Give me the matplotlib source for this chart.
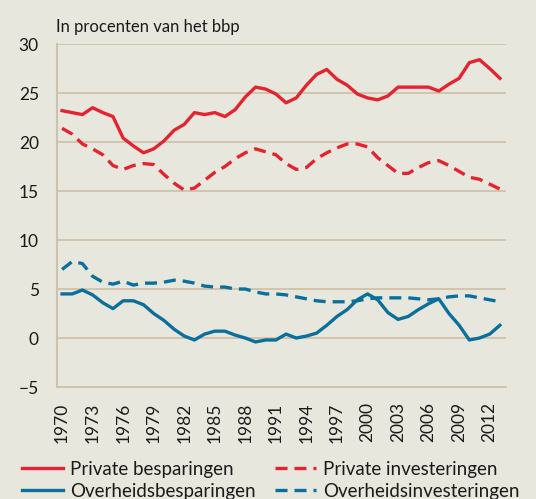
import matplotlib
matplotlib.use("Agg")
import matplotlib.pyplot as plt
from matplotlib.lines import Line2D

years = list(range(1970, 2014))

private_besparingen = [
    23.2, 23.0, 22.8, 23.5, 23.0, 22.6, 20.4, 19.6, 18.9, 19.3,
    20.1, 21.2, 21.8, 23.0, 22.8, 23.0, 22.6, 23.3, 24.6, 25.6,
    25.4, 24.9, 24.0, 24.5, 25.8, 26.9, 27.4, 26.4, 25.8, 24.9,
    24.5, 24.3, 24.7, 25.6, 25.6, 25.6, 25.6, 25.2, 25.9, 26.5,
    28.1, 28.4, 27.5, 26.5,
]
private_investeringen = [
    21.4, 20.8, 19.8, 19.3, 18.7, 17.6, 17.2, 17.6, 17.8, 17.7,
    16.7, 15.8, 15.1, 15.3, 16.1, 16.9, 17.5, 18.3, 18.9, 19.3,
    19.0, 18.7, 17.8, 17.2, 17.4, 18.3, 18.9, 19.4, 19.8, 19.8,
    19.5, 18.4, 17.6, 16.8, 16.8, 17.4, 17.9, 18.1, 17.6, 17.0,
    16.4, 16.2, 15.7, 15.2,
]
overheids_besparingen = [
    4.5, 4.5, 4.9, 4.4, 3.6, 3.0, 3.8, 3.8, 3.4, 2.5,
    1.8, 0.9, 0.2, -0.2, 0.4, 0.7, 0.7, 0.3, 0.0, -0.4,
    -0.2, -0.2, 0.4, 0.0, 0.2, 0.5, 1.3, 2.2, 2.9, 3.9,
    4.5, 3.9, 2.6, 1.9, 2.2, 2.9, 3.5, 4.0, 2.5, 1.3,
    -0.2, 0.0, 0.4, 1.3,
]
overheids_investeringen = [
    7.0, 7.8, 7.6, 6.3, 5.7, 5.5, 5.8, 5.4, 5.6, 5.6,
    5.7, 5.9, 5.8, 5.6, 5.3, 5.2, 5.2, 5.0, 5.0, 4.7,
    4.5, 4.5, 4.4, 4.2, 4.0, 3.8, 3.7, 3.7, 3.7, 3.8,
    4.0, 4.1, 4.1, 4.1, 4.1, 4.0, 3.9, 4.0, 4.2, 4.3,
    4.3, 4.1, 3.9, 3.7,
]

tick_years = list(range(1970, 2013, 3))
y_ticks = [-5, 0, 5, 10, 15, 20, 25, 30]
y_labels = ["\u22125", "0", "5", "10", "15", "20", "25", "30"]

RED = "#e3232f"
BLUE = "#0b6f9c"
BG = "#e8e7de"
GRID = "#cfc2aa"
TXT = "#1a1a1a"
LW = 2.4
DASH = (0, (3.6, 2.1))

plt.rcParams["font.family"] = ["Lato", "DejaVu Sans"]

fig = plt.figure(figsize=(5.36, 4.99), dpi=100)
fig.patch.set_facecolor(BG)
ax = fig.add_axes([0.1063, 0.2244, 0.8377, 0.6874])
ax.set_facecolor(BG)

ax.plot(years, private_besparingen, color=RED, lw=LW)
ax.plot(years, private_investeringen, color=RED, lw=LW, ls=DASH)
ax.plot(years, overheids_besparingen, color=BLUE, lw=LW)
ax.plot(years, overheids_investeringen, color=BLUE, lw=LW, ls=DASH)

ax.set_xlim(1969.5, 2013.6)
ax.set_ylim(-5, 30)
ax.set_yticks(y_ticks)
ax.set_yticklabels(y_labels, fontsize=12.5, color=TXT)
ax.set_xticks(tick_years)
ax.set_xticklabels([str(y) for y in tick_years], rotation=90, fontsize=12.5, color=TXT)
ax.tick_params(length=0)
ax.tick_params(axis="y", pad=13)
ax.tick_params(axis="x", pad=11)

ax.grid(axis="y", color=GRID, lw=1.3)
ax.set_axisbelow(True)
for side in ["top", "right"]:
    ax.spines[side].set_visible(False)
ax.spines["left"].set_color(GRID)
ax.spines["left"].set_linewidth(1.5)
ax.spines["bottom"].set_color(GRID)
ax.spines["bottom"].set_linewidth(1.3)

fig.text(0.1045, 0.945, "In procenten van het bbp", fontsize=12, color=TXT, va="center")

handles = [
    Line2D([], [], color=RED, lw=LW),
    Line2D([], [], color=BLUE, lw=LW),
    Line2D([], [], color=RED, lw=LW, ls=DASH),
    Line2D([], [], color=BLUE, lw=LW, ls=DASH),
]
labels = ["Private besparingen", "Overheidsbesparingen",
          "Private investeringen", "Overheidsinvesteringen"]
fig.legend(handles, labels, ncol=2, loc="lower left", bbox_to_anchor=(0.01, -0.035),
           frameon=False, fontsize=13.5, handlelength=2.15, handletextpad=0.4,
           columnspacing=1.05, labelspacing=0.25, labelcolor=TXT)

fig.savefig("out.png", dpi=100, facecolor=BG)
